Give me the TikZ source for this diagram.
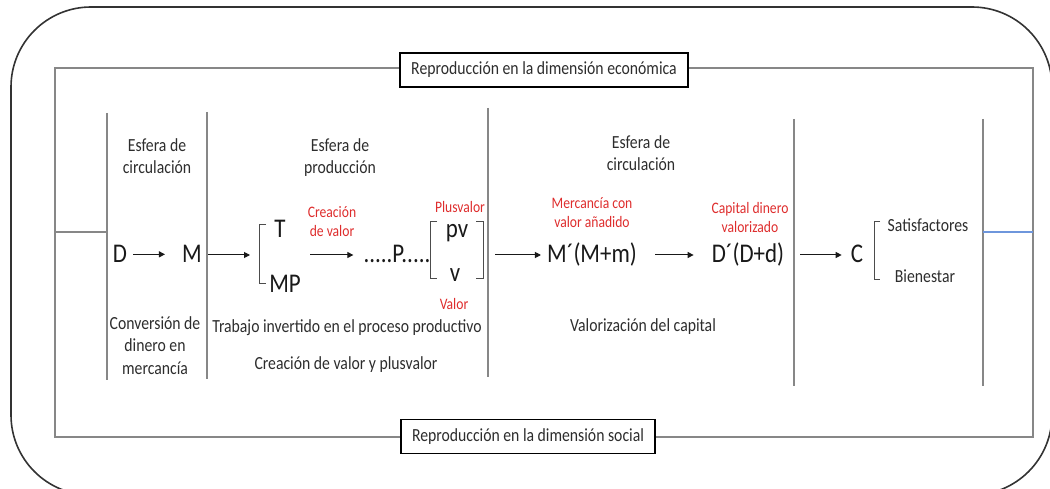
\documentclass[tikz,border=0pt]{standalone}
\usepackage{fontspec}
\setmainfont{Carlito}[FakeStretch=0.85]
\usetikzlibrary{arrows.meta}
\definecolor{redlab}{RGB}{222,45,45}
\definecolor{framegray}{RGB}{135,135,135}
\definecolor{bluel}{RGB}{110,150,220}
\definecolor{textgray}{RGB}{45,45,45}
\begin{document}
\begin{tikzpicture}[x=1pt,y=-1pt,
  outerb/.style={draw=black!80, line width=1.6pt, rounded corners=80pt},
  framel/.style={draw=framegray, line width=1.2pt},
  brk/.style={draw=black!70, line width=1pt},
  arr/.style={-{Triangle[length=6pt,width=6pt]}, line width=1pt, black!90},
  labbox/.style={draw=black, line width=1.6pt, fill=white, inner xsep=11pt, inner ysep=0pt,
    minimum height=34pt, font=\fontsize{18.5}{22}\selectfont, text=textgray},
  big/.style={font=\fontsize{27}{30}\selectfont, inner sep=0pt, anchor=base, text=black!90},
  smalltxt/.style={font=\fontsize{18.5}{22.5}\selectfont, inner sep=0pt, anchor=base, text=textgray},
  redtxt/.style={font=\fontsize{16}{19}\selectfont, inner sep=0pt, anchor=base, text=redlab}]
\useasboundingbox (0,0) rectangle (1050,489);
\clip (0,0) rectangle (1050,489);
% outer rounded border
\draw[outerb] (11,7) rectangle (1052,495);
% inner frame
\draw[framel] (55,68) rectangle (1033,437);
\draw[framel] (55,232) -- (107,232);
\draw[framel] (107,113) -- (107,380);
\draw[framel] (207,112) -- (207,379);
\draw[framel] (488,108) -- (488,377);
\draw[framel] (794,119) -- (794,386);
\draw[framel] (983,119) -- (983,386);
\draw[draw=bluel, line width=1.2pt] (983,232) -- (1033,232);
% labels on frame
\node[labbox] (eco) at (544,70) {Reproducción en la dimensión económica};
\node[labbox] (soc) at (528,436.5) {Reproducción en la dimensión social};
% headings (base anchor = last line)
\node[smalltxt, align=center] (esf1) at (157,174) {Esfera de\\circulación};
\node[smalltxt, align=center] (esf2) at (340,174) {Esfera de\\producción};
\node[smalltxt, align=center] (esf3) at (641,171) {Esfera de\\circulación};
% main row
\node[big] (D) at (120,263) {D};
\node[big] (M) at (192,263) {M};
\node[big] (T) at (280,238) {T};
\node[big] (MP) at (285,293) {MP};
\node[big] (P) at (397,263) {.....P.....};
\node[big] (pv) at (457,238) {pv};
\node[big] (v) at (455,281) {v};
\node[big] (Mp) at (592,263) {M´(M+m)};
\node[big] (Dp) at (748,263) {D´(D+d)};
\node[big] (C) at (857,263) {C};
% brackets
\draw[brk] (266,225) -- (259,225) -- (259,284) -- (266,284);
\coordinate (br1) at (259,255);
\coordinate (tmp) at (304,255);
\draw[brk] (437,222) -- (430,222) -- (430,279) -- (437,279);
\draw[brk] (476,222) -- (483,222) -- (483,279) -- (476,279);
\coordinate (br2) at (483,255);
\draw[brk] (880,222) -- (874,222) -- (874,280) -- (880,280);
% arrows
\draw[arr, shorten <=6pt, shorten >=17pt] (D.east) -- (D.east -| M.west);
\draw[arr, shorten <=6pt, shorten >=9pt] (M.east |- br1) -- (br1);
\draw[arr, shorten <=6pt, shorten >=10pt] (tmp) -- (tmp -| P.west);
\draw[arr, shorten <=12pt, shorten >=6pt] (br2) -- (br2 -| Mp.west);
\draw[arr, shorten <=18pt, shorten >=18pt] (Mp.east |- br2) -- (br2 -| Dp.west);
\draw[arr, shorten <=16pt, shorten >=9pt] (Dp.east |- br2) -- (br2 -| C.west);
% red labels
\node[redtxt, align=center] (cv) at (332,237) {Creación\\de valor};
\node[redtxt] (plus) at (460,213) {Plusvalor};
\node[redtxt] (val) at (454,309) {Valor};
\node[redtxt, align=center] (merc) at (592,228) {Mercancía con\\valor añadido};
\node[redtxt, align=center] (capd) at (750,233) {Capital dinero\\valorizado};
% consumption
\node[smalltxt] (sat) at (928,232) {Satisfactores};
\node[smalltxt] (bien) at (925,283) {Bienestar};
% lower texts
\node[smalltxt, align=center] (conv) at (155,374) {Conversión de\\dinero en\\mercancía};
\node[smalltxt] (trab) at (347,332) {Trabajo invertido en el proceso productivo};
\node[smalltxt] (crea) at (346,369) {Creación de valor y plusvalor};
\node[smalltxt] (valz) at (643,331) {Valorización del capital};
\end{tikzpicture}
\end{document}
